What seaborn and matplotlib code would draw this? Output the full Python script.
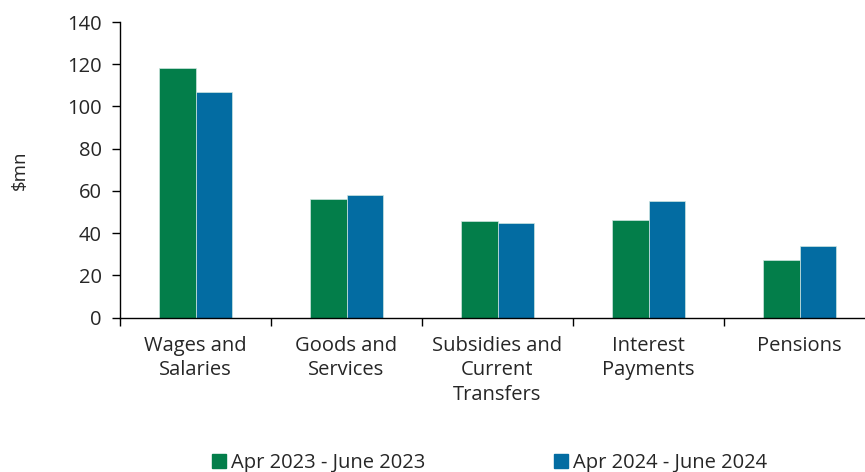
import matplotlib
matplotlib.use("Agg")
import matplotlib.pyplot as plt
from matplotlib.patches import Patch
from matplotlib.ticker import FixedLocator
import pandas as pd
import seaborn as sns

categories = ["Wages and\nSalaries", "Goods and\nServices", "Subsidies and\nCurrent\nTransfers",
              "Interest\nPayments", "Pensions"]
periods = ["Apr 2023 - June 2023", "Apr 2024 - June 2024"]
values_2023 = [118, 56, 45.5, 46, 27.2]
values_2024 = [107, 58, 45, 55.3, 33.8]
colors = ["#037E4A", "#036CA2"]

df = pd.DataFrame({
    "category": categories * 2,
    "period": [periods[0]] * len(categories) + [periods[1]] * len(categories),
    "value": values_2023 + values_2024,
})

sns.set_style("white")
plt.rcParams["font.family"] = ["Open Sans", "DejaVu Sans"]

fig = plt.figure(figsize=(8.65, 4.72), dpi=100)
ax = fig.add_axes([120 / 865, 1 - 317.5 / 472, 1 - 120 / 865, (317.5 - 22) / 472])

sns.barplot(data=df, x="category", y="value", hue="period", palette=colors,
            width=0.48, ax=ax, legend=False, saturation=1,
            edgecolor="#cfe6e0", linewidth=0.5)

ax.set_ylim(0, 140)
ax.set_yticks(range(0, 141, 20))
ax.set_xlim(-0.5, (865 - 120) / 151 - 0.5)
ax.set_xlabel("")
ax.set_ylabel("$mn", fontsize=13.5)
ax.yaxis.set_label_coords(-0.122, 0.5)

ax.tick_params(axis="y", which="major", direction="out", length=6, width=1,
               color="black", labelsize=14.5, pad=7, left=True)
ax.tick_params(axis="x", which="major", length=0, labelsize=14.5, pad=13)
for lbl in ax.get_xticklabels():
    lbl.set_linespacing(1.3)
ax.xaxis.set_minor_locator(FixedLocator([i + 0.5 for i in range(-1, len(categories))]))
ax.tick_params(axis="x", which="minor", direction="out", length=6, width=1,
               color="black", bottom=True)

for s in ["top", "right"]:
    ax.spines[s].set_visible(False)
for s in ["left", "bottom"]:
    ax.spines[s].set_color("black")
    ax.spines[s].set_linewidth(1)

handles = [Patch(facecolor=c, edgecolor=c) for c in colors]
fig.legend(handles, periods, loc="center", bbox_to_anchor=(0.566, 1 - 463 / 472),
           ncol=2, frameon=False, fontsize=14.5, handlelength=0.7, handleheight=0.7,
           handletextpad=0.25, columnspacing=6.4)

fig.savefig("out.png", dpi=100)
